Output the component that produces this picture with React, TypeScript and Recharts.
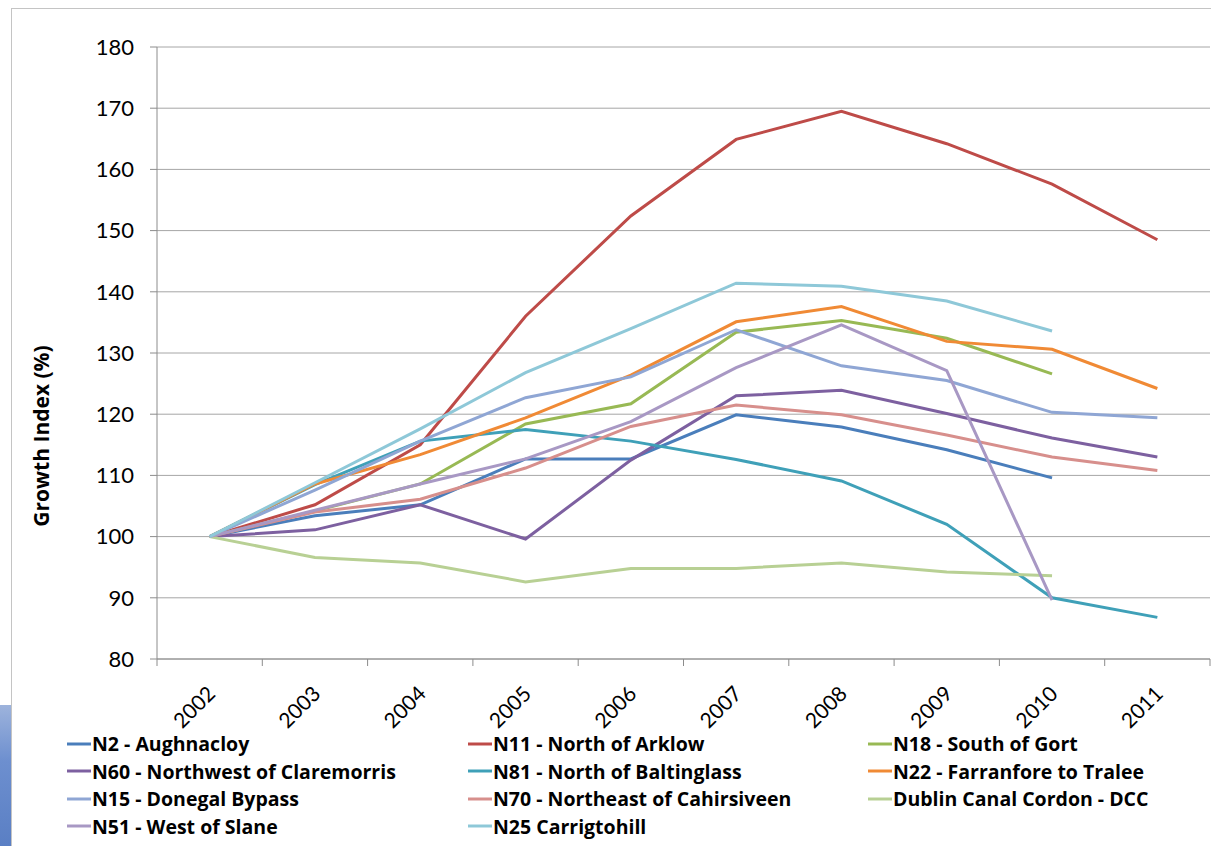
import React from 'react';
import { LineChart, Line, XAxis, YAxis, CartesianGrid, Legend } from 'recharts';

const years = ['2002', '2003', '2004', '2005', '2006', '2007', '2008', '2009', '2010', '2011'];
const yTicks = [80, 90, 100, 110, 120, 130, 140, 150, 160, 170, 180];

const n2 = [100, 103.4, 105.2, 112.7, 112.7, 119.9, 117.9, 114.2, 109.6, null];
const n11 = [100, 105.2, 115.0, 136.0, 152.4, 164.9, 169.5, 164.2, 157.6, 148.5];
const n18 = [100, 104.2, 108.6, 118.4, 121.7, 133.4, 135.3, 132.4, 126.6, null];
const n60 = [100, 101.1, 105.2, 99.6, 112.5, 123.0, 123.9, 120.1, 116.1, 113.0];
const n81 = [100, 108.5, 115.6, 117.5, 115.6, 112.6, 109.1, 102.0, 90.0, 86.8];
const n22 = [100, 108.6, 113.4, 119.4, 126.4, 135.1, 137.6, 131.9, 130.6, 124.2];
const n15 = [100, 107.6, 115.6, 122.7, 126.1, 133.8, 127.9, 125.5, 120.3, 119.4];
const n70 = [100, 104.0, 106.1, 111.2, 118.0, 121.5, 119.9, 116.6, 113.0, 110.8];
const dcc = [100, 96.6, 95.7, 92.6, 94.8, 94.8, 95.7, 94.2, 93.6, null];
const n51 = [100, 104.3, 108.6, 112.7, 118.8, 127.6, 134.6, 127.1, 89.6, null];
const n25 = [100, 108.8, 117.6, 126.8, 134.0, 141.4, 140.9, 138.5, 133.6, null];

const seriesNames = [
  'N2 - Aughnacloy',
  'N11 - North of Arklow',
  'N18 - South of Gort',
  'N60 - Northwest of Claremorris',
  'N81 - North of Baltinglass',
  'N22 - Farranfore to Tralee',
  'N15 - Donegal Bypass',
  'N70 - Northeast of Cahirsiveen',
  'Dublin Canal Cordon - DCC',
  'N51 - West of Slane',
  'N25 Carrigtohill',
];
const seriesValues = [n2, n11, n18, n60, n81, n22, n15, n70, dcc, n51, n25];
const seriesColors = [
  '#4A7EBB', '#BE4B48', '#98B954', '#7D60A0', '#3FA0B8', '#F08A35',
  '#8FA6D4', '#D78F8C', '#B8D094', '#A898C4', '#8EC8D8',
];

const data = years.map((y, i) => {
  const row: Record<string, any> = { year: y };
  seriesValues.forEach((vals, s) => {
    row['s' + s] = vals[i];
  });
  return row;
});

const FONT = 'Lato, "Open Sans", sans-serif';
const LFONT = '"Open Sans", Lato, sans-serif';
const AXIS = '#8c8c8c';

const XTick = (props: any) => {
  const { x, y, payload, index, visibleTicksCount } = props;
  const half = payload && typeof payload.offset === 'number' && payload.offset > 0 ? payload.offset : 52.6;
  const tx = x + 7;
  const ty = y + 36;
  return (
    <g>
      <line x1={x - half} y1={y} x2={x - half} y2={y + 7} stroke={AXIS} strokeWidth={1} />
      {index === visibleTicksCount - 1 ? (
        <line x1={x + half} y1={y} x2={x + half} y2={y + 7} stroke={AXIS} strokeWidth={1} />
      ) : null}
      <text
        x={tx}
        y={ty}
        transform={`rotate(-45 ${tx} ${ty})`}
        textAnchor="end"
        fontSize={21}
        fontFamily={FONT}
        fill="#000"
      >
        {payload.value}
      </text>
    </g>
  );
};

const LegendContent = (props: any) => {
  const payload = [...(props.payload || [])].sort(
    (a: any, b: any) => seriesNames.indexOf(a.value) - seriesNames.indexOf(b.value)
  );
  return (
    <div
      style={{
        display: 'grid',
        gridTemplateColumns: '401px 400px 340px',
        rowGap: 0,
        fontFamily: LFONT,
        fontWeight: 700,
        fontSize: 19.5,
        color: '#000',
      }}
    >
      {payload.map((p: any, i: number) => (
        <div key={i} style={{ display: 'flex', alignItems: 'center', height: 27.5, whiteSpace: 'nowrap' }}>
          <svg width={24} height={10} style={{ marginRight: 1 }}>
            <line x1={0} y1={5} x2={24} y2={5} stroke={p.color} strokeWidth={3} />
          </svg>
          <span>{p.value}</span>
        </div>
      ))}
    </div>
  );
};

const YLabel = (props: any) => {
  const vb = props.viewBox || { x: 77, y: 47, width: 80, height: 612 };
  const cx = vb.x - 36;
  const cy = vb.y + vb.height / 2 + 83;
  return (
    <text
      x={cx}
      y={cy}
      transform={`rotate(-90 ${cx} ${cy})`}
      textAnchor="middle"
      dominantBaseline="central"
      fontSize={21}
      fontWeight={700}
      fontFamily={LFONT}
      fill="#000"
    >
      Growth Index (%)
    </text>
  );
};

export default function App() {
  return (
    <div style={{ position: 'absolute', left: 0, top: 0, width: 1211, height: 846, background: '#fff', overflow: 'hidden' }}>
      <div
        style={{
          position: 'absolute',
          left: 0,
          top: 705,
          width: 11,
          height: 141,
          background: 'linear-gradient(180deg, #9db3dc 0%, #6d8fcf 40%, #5a7fc4 100%)',
        }}
      />
      <div
        style={{
          position: 'absolute',
          left: 11,
          top: 8,
          width: 1210,
          height: 850,
          borderLeft: '1px solid #c4c4c4',
          borderTop: '1px solid #c4c4c4',
          background: '#fff',
        }}
      />
      <div style={{ position: 'absolute', left: 0, top: 0 }}>
        <LineChart width={1211} height={846} data={data} margin={{ top: 47, right: 1, left: 77, bottom: 127 }}>
          <CartesianGrid vertical={false} stroke="#a6a6a6" strokeWidth={1} />
          <XAxis
            dataKey="year"
            scale="band"
            interval={0}
            height={60}
            stroke={AXIS}
            tickLine={false}
            tickSize={0}
            tickMargin={0}
            tick={<XTick />}
          />
          <YAxis
            domain={[80, 180]}
            ticks={yTicks}
            width={80}
            stroke={AXIS}
            tickSize={7}
            tickMargin={16}
            tick={{ fontSize: 22, fontFamily: FONT, fill: '#000' }}
            interval={0}
            allowDataOverflow
            label={<YLabel />}
          />
          {seriesNames.map((name, s) => (
            <Line
              key={name}
              type="linear"
              dataKey={'s' + s}
              name={name}
              stroke={seriesColors[s]}
              strokeWidth={3}
              dot={false}
              activeDot={false}
              isAnimationActive={false}
            />
          ))}
          <Legend
            layout="horizontal"
            align="center"
            verticalAlign="middle"
            wrapperStyle={{ left: 67, top: 730, width: 1144, height: 115 }}
            content={<LegendContent />}
          />
        </LineChart>
      </div>
    </div>
  );
}
